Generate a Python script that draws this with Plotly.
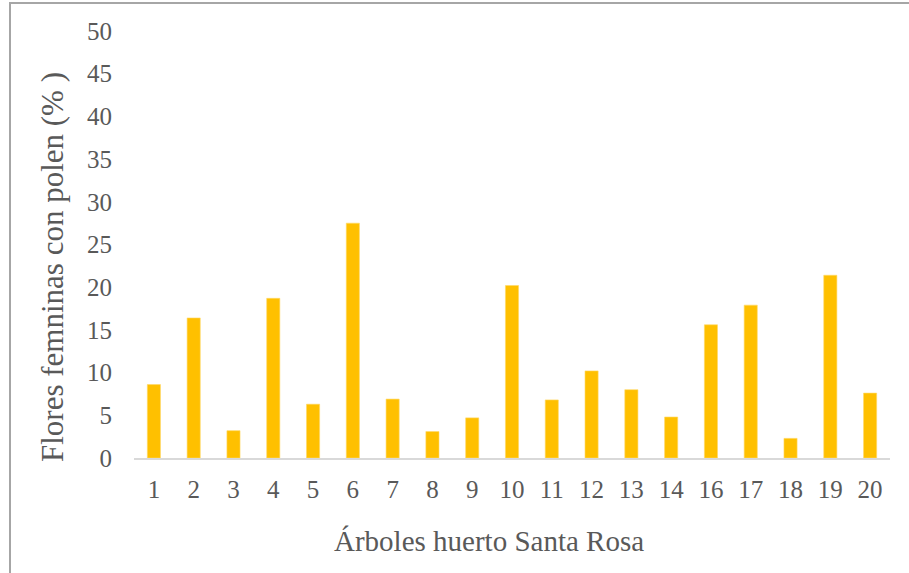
import plotly.graph_objects as go

# Trees in the Santa Rosa orchard (tree 15 not sampled)
arboles = ["1", "2", "3", "4", "5", "6", "7", "8", "9", "10",
           "11", "12", "13", "14", "16", "17", "18", "19", "20"]
# Female flowers carrying pollen, percent
flores_con_polen = [8.6, 16.4, 3.2, 18.7, 6.3, 27.5, 6.9, 3.1, 4.7, 20.2,
                    6.8, 10.2, 8.0, 4.8, 15.6, 17.9, 2.3, 21.4, 7.6]
y_ticks = [0, 5, 10, 15, 20, 25, 30, 35, 40, 45, 50]

W, H = 909, 573
L, R, T, B = 134, 19, 31, 115
pw, ph = W - L - R, H - T - B

def px_x(x):
    return (x - L) / pw

def px_y(y):
    return (H - B - y) / ph

text_color = "#595959"
font_family = "Liberation Serif"
tick_font = dict(family=font_family, size=25, color=text_color)

fig = go.Figure(
    go.Bar(
        x=arboles,
        y=flores_con_polen,
        marker=dict(color="#FFC000", line=dict(color="#FFD966", width=0.6)),
        width=0.33,
    )
)

fig.update_layout(
    width=W,
    height=H,
    margin=dict(l=L, r=R, t=T, b=B),
    paper_bgcolor="white",
    plot_bgcolor="white",
    showlegend=False,
    font=dict(family=font_family, color=text_color, size=25),
    xaxis=dict(
        type="category",
        showgrid=False,
        showline=True,
        linecolor="#d9d9d9",
        linewidth=1.5,
        ticks="",
        tickfont=tick_font,
        ticklabelstandoff=8,
    ),
    yaxis=dict(
        range=[0, 50],
        tickvals=y_ticks,
        showgrid=False,
        zeroline=False,
        showline=False,
        ticks="",
        tickfont=tick_font,
        ticklabelstandoff=21,
    ),
    annotations=[
        dict(
            text="Árboles huerto Santa Rosa",
            xref="paper", yref="paper",
            x=px_x(489), y=px_y(541),
            xanchor="center", yanchor="middle",
            showarrow=False,
            font=dict(family=font_family, size=29, color=text_color),
        ),
        dict(
            text="Flores femninas con polen (% )",
            xref="paper", yref="paper",
            x=px_x(52), y=px_y(267),
            xanchor="center", yanchor="middle",
            textangle=-90,
            showarrow=False,
            font=dict(family=font_family, size=31, color=text_color),
        ),
    ],
    shapes=[
        # chart frame (top and left edges)
        dict(type="line", xref="paper", yref="paper",
             x0=px_x(10), x1=px_x(W + 5), y0=px_y(3), y1=px_y(3),
             line=dict(color="#a6a6a6", width=2)),
        dict(type="line", xref="paper", yref="paper",
             x0=px_x(10), x1=px_x(10), y0=px_y(2), y1=px_y(H + 5),
             line=dict(color="#a6a6a6", width=2)),
    ],
)

fig.write_html("out.html")
